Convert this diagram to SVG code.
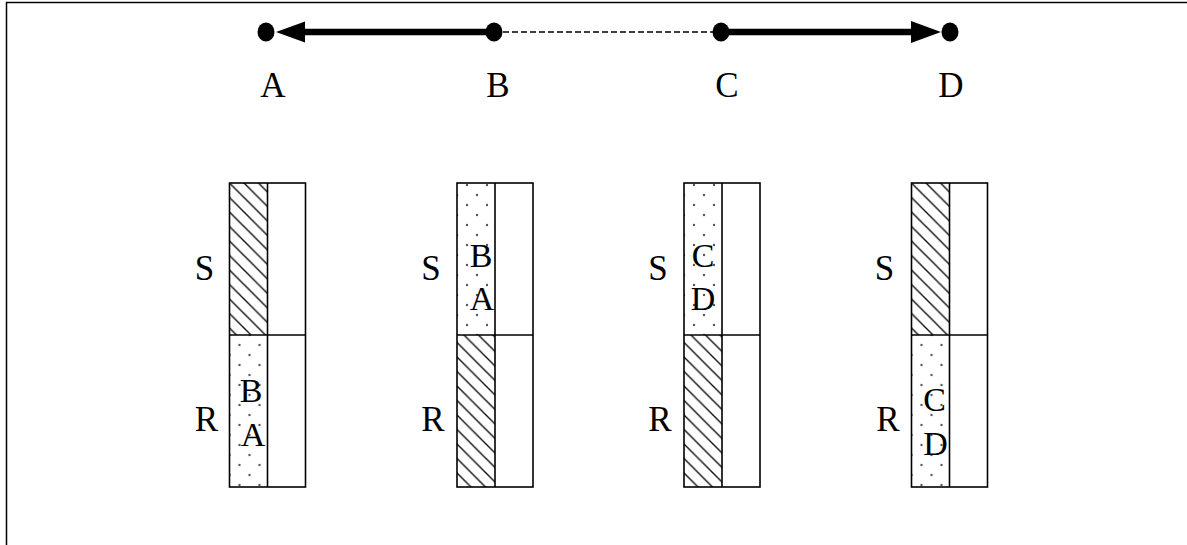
<svg xmlns="http://www.w3.org/2000/svg" width="1187" height="545" viewBox="0 0 1187 545">
<style>
text { font-family: "Liberation Serif", "Times New Roman", serif; fill: #000; }
.lbl { font-size: 35px; text-anchor: middle; }
.in { font-size: 34px; text-anchor: middle; }
.box { fill: none; stroke: #000; stroke-width: 1.6; }
.thick { stroke: #000; stroke-width: 6.5; fill: none; }
.dash { stroke: #000; stroke-width: 1.5; stroke-dasharray: 6 3; fill: none; }
.dot { fill: #000; }
</style>
<defs>
<pattern id="hatch" patternUnits="userSpaceOnUse" width="14.5" height="14.5">
<path d="M-2,-2 L16.5,16.5 M-2,12.5 L2,16.5 M12.5,-2 L16.5,2" stroke="#111" stroke-width="1.4"/>
</pattern>
<pattern id="dots" patternUnits="userSpaceOnUse" width="20" height="20" y="2">
<circle cx="10" cy="0" r="1.2" fill="#555"/>
<circle cx="10" cy="20" r="1.2" fill="#555"/>
<circle cx="0" cy="10" r="1.2" fill="#555"/>
<circle cx="20" cy="10" r="1.2" fill="#555"/>
</pattern>
</defs>
<rect width="1187" height="545" fill="#fff"/>
<path d="M6.5,545 V2.5 H1187" fill="none" stroke="#000" stroke-width="1.5"/>

<g id="connectors">
<line class="thick" x1="303" y1="32" x2="494" y2="32"/>
<polygon points="276,32 305,21.5 305,42.5" fill="#000"/>
<line class="dash" x1="494" y1="32" x2="721" y2="32"/>
<line class="thick" x1="721" y1="32" x2="913" y2="32"/>
<polygon points="941,32 911,21 911,43" fill="#000"/>
</g>

<g id="pointA"><ellipse class="dot" cx="266" cy="32" rx="8.5" ry="9.5"/><text class="lbl" x="273" y="97">A</text></g>
<g id="pointB"><ellipse class="dot" cx="494" cy="32" rx="8.5" ry="9.5"/><text class="lbl" x="498" y="97">B</text></g>
<g id="pointC"><ellipse class="dot" cx="721" cy="32" rx="8.5" ry="9.5"/><text class="lbl" x="727" y="97">C</text></g>
<g id="pointD"><ellipse class="dot" cx="950" cy="32" rx="8.5" ry="9.5"/><text class="lbl" x="951" y="97">D</text></g>

<g id="box1" transform="translate(229.5,183)">
<rect x="0" y="0" width="38" height="152" fill="url(#hatch)"/>
<rect x="0" y="152" width="38" height="152" fill="url(#dots)"/>
<rect class="box" x="0" y="0" width="76" height="304"/>
<line class="box" x1="38" y1="0" x2="38" y2="304"/>
<line class="box" x1="0" y1="152" x2="76" y2="152"/>
<text class="lbl" x="-25" y="97">S</text>
<text class="lbl" x="-23" y="248">R</text>
<text class="in" x="21.5" y="219">B</text>
<text class="in" x="23.5" y="263">A</text>
</g>

<g id="box2" transform="translate(457,183)">
<rect x="0" y="0" width="38" height="152" fill="url(#dots)"/>
<rect x="0" y="152" width="38" height="152" fill="url(#hatch)"/>
<rect class="box" x="0" y="0" width="76" height="304"/>
<line class="box" x1="38" y1="0" x2="38" y2="304"/>
<line class="box" x1="0" y1="152" x2="76" y2="152"/>
<text class="lbl" x="-26" y="97">S</text>
<text class="lbl" x="-24" y="248">R</text>
<text class="in" x="24" y="84">B</text>
<text class="in" x="25" y="127">A</text>
</g>

<g id="box3" transform="translate(684,183)">
<rect x="0" y="0" width="38" height="152" fill="url(#dots)"/>
<rect x="0" y="152" width="38" height="152" fill="url(#hatch)"/>
<rect class="box" x="0" y="0" width="76" height="304"/>
<line class="box" x1="38" y1="0" x2="38" y2="304"/>
<line class="box" x1="0" y1="152" x2="76" y2="152"/>
<text class="lbl" x="-26" y="97">S</text>
<text class="lbl" x="-24" y="248">R</text>
<text class="in" x="19" y="84">C</text>
<text class="in" x="19" y="127">D</text>
</g>

<g id="box4" transform="translate(911.5,183)">
<rect x="0" y="0" width="38" height="152" fill="url(#hatch)"/>
<rect x="0" y="152" width="38" height="152" fill="url(#dots)"/>
<rect class="box" x="0" y="0" width="76" height="304"/>
<line class="box" x1="38" y1="0" x2="38" y2="304"/>
<line class="box" x1="0" y1="152" x2="76" y2="152"/>
<text class="lbl" x="-27" y="97">S</text>
<text class="lbl" x="-23.5" y="248">R</text>
<text class="in" x="23" y="228">C</text>
<text class="in" x="24" y="272">D</text>
</g>
</svg>
